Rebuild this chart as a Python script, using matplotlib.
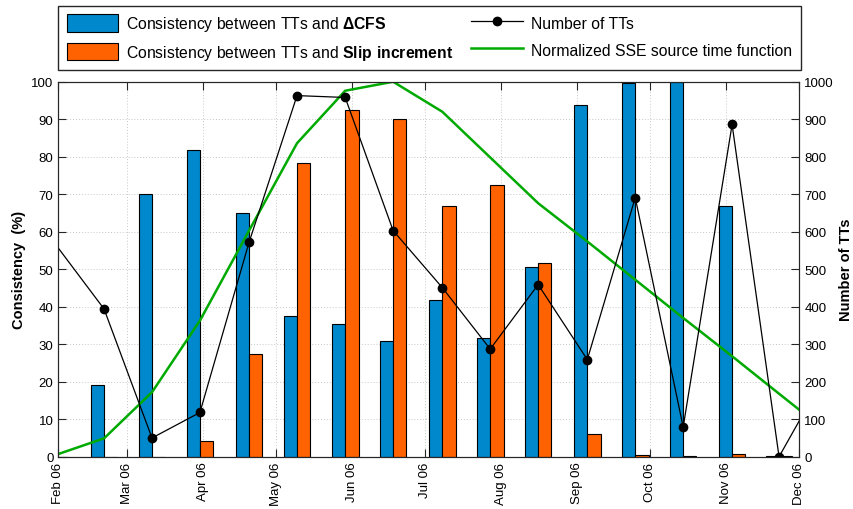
import numpy as np
import matplotlib
matplotlib.use('Agg')
import matplotlib.pyplot as plt
import matplotlib.dates as mdates
from datetime import datetime

plt.rcParams['font.family'] = ['Liberation Sans', 'DejaVu Sans']
plt.rcParams['mathtext.fontset'] = 'custom'
plt.rcParams['mathtext.rm'] = 'Liberation Sans'
plt.rcParams['mathtext.bf'] = 'Liberation Sans:bold'

# window centres, days after 1 Feb 2006 (first and last fall outside the axis)
day_offset = [-1.0, 18.7, 38.3, 57.9, 78.0, 97.6, 117.3, 136.9, 157.0, 176.6,
              196.2, 216.3, 235.9, 255.5, 275.5, 294.7, 314.4]
cons_cfs = [0, 19, 70, 81.7, 64.9, 37.4, 35.4, 30.9, 41.8, 31.6,
            50.5, 93.9, 99.6, 100, 66.9, 0.1, 0]
cons_slip = [0, 0, 0, 4.1, 27.3, 78.3, 92.5, 90.0, 66.8, 72.5,
             51.6, 6.0, 0.4, 0.1, 0.7, 0.1, 0]
num_tts = [565, 394, 50, 118, 572, 963, 958, 603, 451, 287,
           459, 259, 691, 79, 886, 0, 228]
sse_stf = [0.5, 4.9, 17.2, 36.3, 60.3, 83.6, 97.6, 100, 92, 79.8,
           67.6, 57.4, 47.2, 37.0, 26.8, 16.8, 6.6]

c_blue = '#0088cc'
c_orange = '#ff6200'
c_green = '#00aa00'
c_axis = '#262626'

t0 = mdates.date2num(datetime(2006, 2, 1))
x = t0 + np.array(day_offset)
w = 5.44  # bar width in days

fig = plt.figure(figsize=(8.54, 5.10), dpi=100)
ax = fig.add_axes([0.0683, 0.1025, 0.8677, 0.7353])
ax2 = ax.twinx()

b1 = ax.bar(x - w/2, cons_cfs, width=w, color=c_blue, edgecolor='black', linewidth=0.8, zorder=2)
b2 = ax.bar(x + w/2, cons_slip, width=w, color=c_orange, edgecolor='black', linewidth=0.8, zorder=2)
l2, = ax.plot(x, sse_stf, color=c_green, linewidth=1.8, zorder=3)
# markers only for points inside the time window
l1, = ax2.plot(x, num_tts, color='black', linewidth=0.9, marker='o', markersize=6,
               markevery=slice(1, -1))

ax.set_xlim(datetime(2006, 2, 1), datetime(2006, 12, 1))
ax.set_ylim(0, 100)
ax2.set_ylim(0, 1000)
ax.set_yticks(np.arange(0, 101, 10))
ax2.set_yticks(np.arange(0, 1001, 100))
ax.xaxis.set_major_locator(mdates.MonthLocator())
ax.xaxis.set_major_formatter(mdates.DateFormatter('%b %y'))
plt.setp(ax.get_xticklabels(), rotation=90)

ax.grid(True, linestyle=(0, (1, 2)), color='#c8c8c8', linewidth=0.7)
ax.set_axisbelow(True)
ax.tick_params(axis='x', direction='in', top=True, length=5.5, labelsize=9.5, color=c_axis)
ax.tick_params(axis='y', direction='in', length=5.5, labelsize=9.5, color=c_axis)
ax2.tick_params(axis='y', direction='in', length=5.5, labelsize=9.5, color=c_axis)
for a in (ax, ax2):
    for s in a.spines.values():
        s.set_color(c_axis)
        s.set_linewidth(0.8)

ax.set_ylabel('Consistency  (%)', fontsize=10.5, fontweight='bold')
ax2.set_ylabel('Number of TTs', fontsize=10.5, fontweight='bold')

fig.legend([b1, b2, l1, l2],
           [r'Consistency between TTs and $\mathbf{\Delta CFS}$',
            r'Consistency between TTs and $\mathbf{Slip\ increment}$',
            'Number of TTs', 'Normalized SSE source time function'],
           loc='center', bbox_to_anchor=(0.068, 0.863, 0.8695, 0.121), mode='expand',
           borderaxespad=0, ncol=2, fontsize=11.3, handlelength=3.3, handleheight=1.35,
           handletextpad=0.5, fancybox=False, edgecolor=c_axis, framealpha=1,
           borderpad=0.55, labelspacing=0.6, columnspacing=2.0)

plt.savefig('out.png', dpi=100)
